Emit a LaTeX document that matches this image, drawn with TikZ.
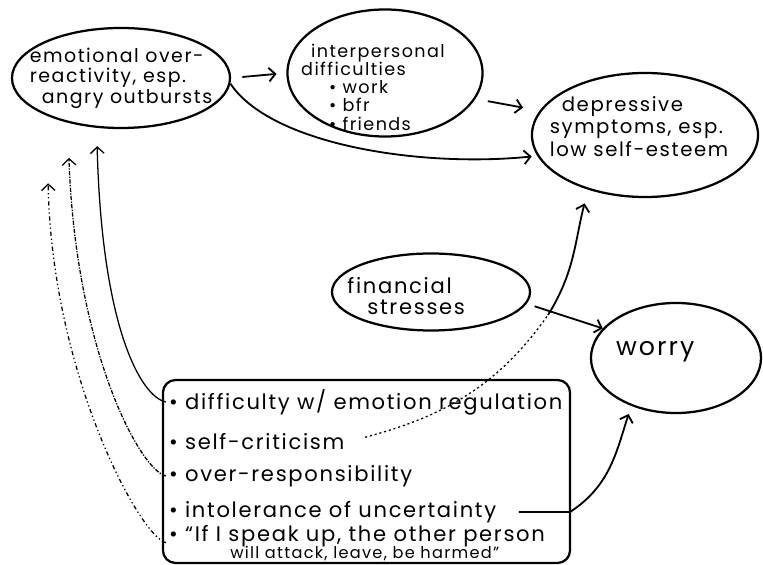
\documentclass[tikz,border=0pt]{standalone}
\usepackage{fontspec}
\setmainfont{Poppins}[LetterSpace=8]
\usetikzlibrary{arrows.meta, shapes.geometric}

\begin{document}
\begin{tikzpicture}[x=0.025cm, y=0.025cm,
    bubble/.style={ellipse, draw, line width=1.6pt, inner sep=0pt},
    bubbletext/.style={align=left, inner sep=0pt},
    panel/.style={rectangle, draw, rounded corners=9pt, line width=1.6pt,
                  minimum width=10.175cm, minimum height=4.575cm},
    listitem/.style={anchor=west, inner sep=2pt,
                     font=\fontsize{15}{17}\selectfont},
    link/.style={-{Straight Barb[length=1.6mm, width=3.4mm]}, line width=1.3pt},
    thinlink/.style={link, line width=0.9pt},
]
\useasboundingbox (0,0) rectangle (763,565);

% ─── Outcome bubbles ──────────────────────────────────────────────
\node[bubble, minimum width=5.45cm, minimum height=2.5cm,
      label={[bubbletext, font=\fontsize{13.5}{14.5}\selectfont]center:%
        emotional over-\\reactivity, esp.\\\hspace*{0.3cm}angry outbursts}]
  (react) at (121,487) {};

\node[bubble, minimum width=4.875cm, minimum height=3.175cm,
      label={[bubbletext, font=\fontsize{12.5}{13}\selectfont,
              xshift=-0.3cm, yshift=-0.35cm]center:%
        \hspace*{0.25cm}interpersonal\\difficulties\\
        \hspace*{0.7cm}\textbullet\ work\\\hspace*{0.7cm}\textbullet\ bfr\\
        \hspace*{0.7cm}\textbullet\ friends}]
  (inter) at (385,492) {};

\node[bubble, minimum width=5.65cm, minimum height=3.1cm,
      label={[bubbletext, font=\fontsize{14}{16}\selectfont,
              xshift=-0.15cm, yshift=0.22cm]center:%
        \hspace*{0.3cm}depressive\\symptoms, esp.\\low self-esteem}]
  (depr) at (645,430) {};

\node[bubble, minimum width=4.95cm, minimum height=1.925cm,
      label={[bubbletext, font=\fontsize{15}{15}\selectfont,
              xshift=-0.62cm, yshift=-0.1cm]center:%
        financial\\\hspace*{0.5cm}stresses}]
  (fin) at (431,273) {};

\node[bubble, minimum width=4.25cm, minimum height=2.75cm,
      label={[bubbletext, font=\fontsize{18}{18}\selectfont,
              xshift=-0.52cm, yshift=0.15cm]center:worry}]
  (worry) at (676,207) {};

% ─── Vulnerability list ───────────────────────────────────────────
\node[panel] (box) at (366.5,93.5) {};

\node[listitem] (emoreg) at (166,163) {\textbullet\ difficulty w/ emotion regulation};
\node[listitem] (crit)   at (166,123) {\textbullet\ self-criticism};
\node[listitem] (resp)   at (166,89)  {\textbullet\ over-responsibility};
\node[listitem] (uncert) at (166,53)  {\textbullet\ intolerance of uncertainty};
\node[listitem, anchor=north west, align=left] (belief) at (166,43)
  {\textbullet\ “If I speak up, the other person\\[-5pt]
   \hspace*{2.9em}{\fontsize{11.5}{12}\selectfont will attack, leave, be harmed”}};

% ─── Links between bubbles ────────────────────────────────────────
\draw[link, shorten <=8pt, shorten >=7pt] (react.east) -- (inter.west);
\draw[link, shorten <=9pt, shorten >=12pt] (inter.-16) -- (depr.167);
\draw[link, shorten >=4pt] (react.-3)
  .. controls +(40,-60) and +(-120,-12) .. (depr.191);
\draw[link, shorten <=6pt] (fin.-7) -- (worry.158);

% ─── Links from the list ──────────────────────────────────────────
\coordinate (critbend) at (548,250);
\draw[line width=0.9pt, dash pattern=on 1.5pt off 2pt, shorten <=13pt]
  (crit.east) to[out=15, in=235] (critbend);
\draw[link, shorten >=10pt] (critbend) to[out=58, in=-105] (depr.224);

\coordinate (uncbend) at (570,53);
\draw[link, shorten <=14pt, shorten >=6pt] (uncert.east) -- (uncbend)
  to[out=33, in=-108] (worry.227);

\draw[thinlink, shorten >=13pt] (emoreg.west)
  .. controls +(-25,5) and +(5,-200) .. (react.244);
\draw[thinlink, densely dash dot, shorten >=25pt] (resp.west)
  .. controls +(-25,5) and +(8,-230) .. (react.220);
\draw[thinlink, dash dot dot, shorten >=48pt] (belief.west)
  .. controls +(-25,5) and +(5,-260) .. (react.207);

\end{tikzpicture}
\end{document}
